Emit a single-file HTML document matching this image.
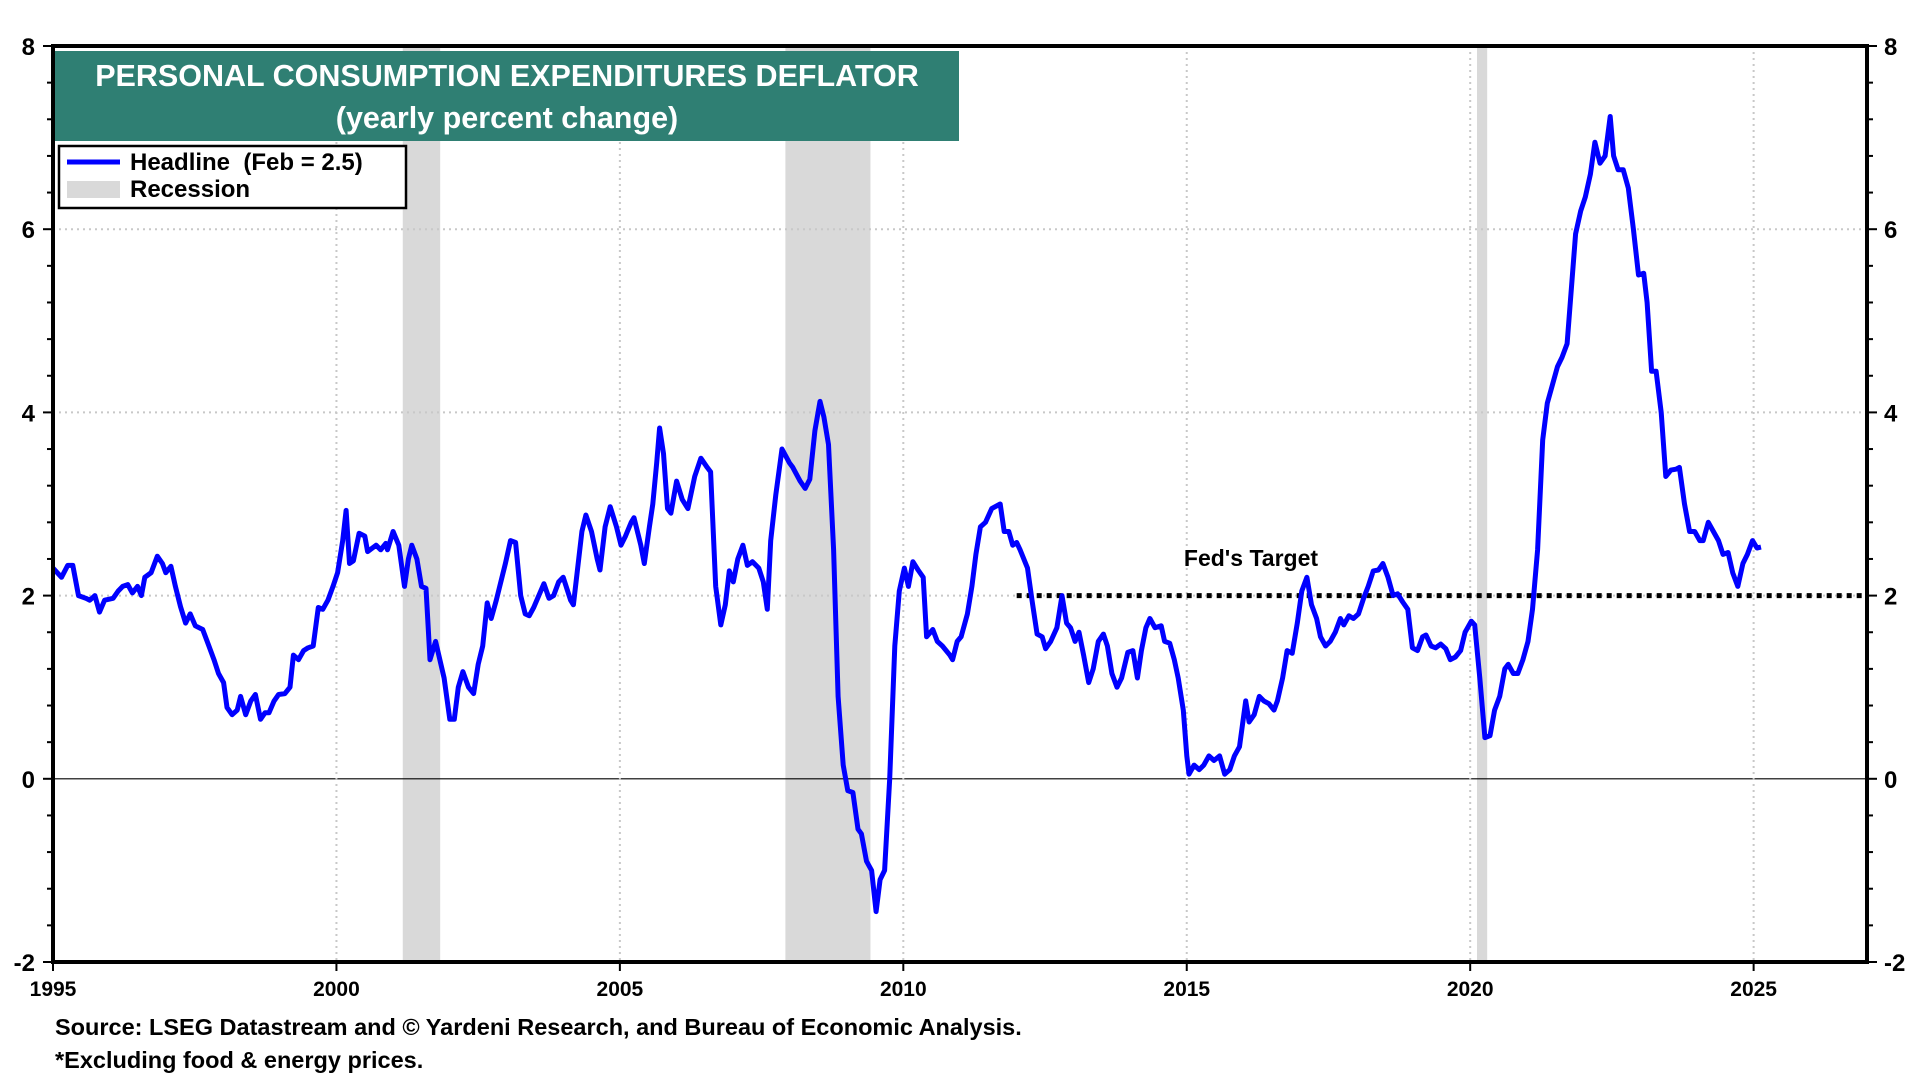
<!DOCTYPE html>
<html><head><meta charset="utf-8"><style>
body{margin:0;background:#fff;}
svg{display:block;font-family:"Liberation Sans",Arial,sans-serif;font-weight:bold;}
</style></head><body>
<svg id="chart" width="1920" height="1080" xmlns="http://www.w3.org/2000/svg">
<g id="bg"></g>
<g id="grid"></g>
<g id="series"></g>
<g id="axes"></g>
<rect x="55" y="51" width="904" height="90" fill="#2f7f73"/>
<text x="507" y="86" text-anchor="middle" font-size="30.5" fill="#fff">PERSONAL CONSUMPTION EXPENDITURES DEFLATOR</text>
<text x="507" y="128" text-anchor="middle" font-size="30.5" fill="#fff">(yearly percent change)</text>
<g>
<rect x="59" y="146" width="347" height="62" fill="#fff" stroke="#000" stroke-width="2.5"/>
<line x1="67" y1="162" x2="120" y2="162" stroke="#0000ff" stroke-width="5"/>
<text x="130" y="170" font-size="24" xml:space="preserve">Headline  (Feb = 2.5)</text>
<rect x="67" y="181" width="53" height="17" fill="#d9d9d9"/>
<text x="130" y="197" font-size="24">Recession</text>
</g>
<text x="1251" y="566" text-anchor="middle" font-size="23">Fed's Target</text>
<text x="55" y="1035" font-size="23.5">Source: LSEG Datastream and © Yardeni Research, and Bureau of Economic Analysis.</text>
<text x="55" y="1068" font-size="23.5">*Excluding food &amp; energy prices.</text>
</svg>
<script>
const dates=[1995.0,1995.15,1995.26,1995.35,1995.45,1995.58,1995.65,1995.74,1995.82,1995.91,1996.06,1996.15,1996.23,1996.32,1996.4,1996.49,1996.56,1996.62,1996.73,1996.84,1996.93,1996.99,1997.08,1997.16,1997.25,1997.34,1997.42,1997.51,1997.64,1997.75,1997.84,1997.92,1998.01,1998.07,1998.16,1998.25,1998.31,1998.4,1998.49,1998.57,1998.66,1998.74,1998.81,1998.9,1998.98,1999.09,1999.18,1999.24,1999.33,1999.42,1999.5,1999.59,1999.68,1999.76,1999.85,1999.94,2000.02,2000.11,2000.17,2000.23,2000.3,2000.4,2000.5,2000.55,2000.7,2000.78,2000.87,2000.9,2001,2001.1,2001.2,2001.27,2001.33,2001.42,2001.5,2001.58,2001.65,2001.75,2001.9,2002.0,2002.08,2002.15,2002.23,2002.33,2002.42,2002.5,2002.58,2002.66,2002.73,2002.82,2002.98,2003.07,2003.16,2003.25,2003.33,2003.4,2003.48,2003.66,2003.75,2003.83,2003.92,2004,2004.13,2004.18,2004.33,2004.4,2004.5,2004.6,2004.65,2004.74,2004.83,2004.94,2005.02,2005.1,2005.2,2005.25,2005.37,2005.43,2005.52,2005.58,2005.65,2005.7,2005.77,2005.84,2005.9,2006.0,2006.1,2006.2,2006.32,2006.43,2006.54,2006.6,2006.69,2006.78,2006.86,2006.93,2007.0,2007.08,2007.17,2007.25,2007.34,2007.45,2007.53,2007.6,2007.66,2007.75,2007.86,2007.99,2008.05,2008.18,2008.27,2008.35,2008.44,2008.53,2008.6,2008.68,2008.77,2008.85,2008.94,2009.02,2009.11,2009.2,2009.26,2009.35,2009.44,2009.52,2009.59,2009.67,2009.76,2009.85,2009.93,2010.02,2010.09,2010.17,2010.26,2010.35,2010.41,2010.52,2010.6,2010.69,2010.82,2010.87,2010.95,2011.02,2011.13,2011.21,2011.28,2011.36,2011.45,2011.56,2011.71,2011.78,2011.86,2011.93,2012.0,2012.06,2012.19,2012.27,2012.36,2012.45,2012.51,2012.6,2012.71,2012.8,2012.88,2012.95,2013.03,2013.1,2013.18,2013.27,2013.35,2013.44,2013.53,2013.6,2013.68,2013.77,2013.85,2013.96,2014.05,2014.13,2014.2,2014.28,2014.35,2014.44,2014.55,2014.61,2014.7,2014.78,2014.85,2014.94,2015.0,2015.04,2015.13,2015.22,2015.3,2015.39,2015.48,2015.58,2015.67,2015.76,2015.84,2015.93,2016.04,2016.1,2016.19,2016.28,2016.36,2016.45,2016.54,2016.6,2016.69,2016.77,2016.86,2016.95,2017.03,2017.12,2017.2,2017.29,2017.36,2017.45,2017.53,2017.62,2017.71,2017.77,2017.86,2017.94,2018.03,2018.12,2018.2,2018.29,2018.38,2018.46,2018.55,2018.64,2018.72,2018.81,2018.9,2018.98,2019.07,2019.16,2019.22,2019.31,2019.39,2019.48,2019.57,2019.65,2019.74,2019.83,2019.91,2020.02,2020.08,2020.17,2020.26,2020.35,2020.43,2020.52,2020.61,2020.67,2020.76,2020.84,2020.93,2021.02,2021.1,2021.19,2021.28,2021.36,2021.45,2021.54,2021.62,2021.71,2021.86,2021.95,2022.03,2022.12,2022.2,2022.29,2022.38,2022.47,2022.53,2022.61,2022.7,2022.79,2022.88,2022.97,2023.06,2023.12,2023.2,2023.28,2023.37,2023.45,2023.54,2023.63,2023.69,2023.78,2023.87,2023.96,2024.05,2024.11,2024.2,2024.29,2024.38,2024.46,2024.55,2024.63,2024.72,2024.81,2024.89,2024.98,2025.06,2025.13];
const values=[2.3,2.2,2.33,2.33,2.0,1.97,1.95,2.0,1.82,1.95,1.97,2.05,2.1,2.12,2.03,2.1,2.0,2.2,2.25,2.43,2.35,2.25,2.32,2.1,1.88,1.7,1.8,1.67,1.63,1.45,1.3,1.15,1.05,0.78,0.7,0.75,0.9,0.7,0.85,0.92,0.65,0.72,0.72,0.85,0.92,0.93,1.0,1.35,1.3,1.4,1.43,1.45,1.87,1.85,1.95,2.1,2.25,2.6,2.93,2.35,2.38,2.68,2.65,2.48,2.55,2.5,2.57,2.5,2.7,2.55,2.1,2.4,2.55,2.4,2.1,2.08,1.3,1.5,1.1,0.65,0.65,1.0,1.17,1.0,0.93,1.25,1.45,1.92,1.75,1.95,2.35,2.6,2.58,2.0,1.8,1.78,1.87,2.13,1.97,2.0,2.15,2.2,1.95,1.9,2.7,2.88,2.7,2.4,2.28,2.75,2.97,2.75,2.55,2.65,2.8,2.85,2.55,2.35,2.75,3.0,3.45,3.83,3.55,2.95,2.9,3.25,3.05,2.95,3.3,3.5,3.4,3.35,2.1,1.68,1.9,2.27,2.15,2.4,2.55,2.33,2.37,2.3,2.15,1.85,2.6,3.1,3.6,3.45,3.4,3.25,3.17,3.27,3.8,4.12,3.95,3.65,2.5,0.9,0.15,-0.13,-0.15,-0.55,-0.6,-0.9,-1.0,-1.45,-1.1,-1.0,0,1.45,2.05,2.3,2.1,2.37,2.28,2.2,1.55,1.63,1.5,1.45,1.35,1.3,1.5,1.55,1.8,2.1,2.45,2.75,2.8,2.95,3.0,2.7,2.7,2.55,2.58,2.5,2.3,1.95,1.58,1.55,1.42,1.5,1.65,2.0,1.7,1.65,1.5,1.6,1.35,1.05,1.2,1.5,1.58,1.45,1.15,1.0,1.1,1.38,1.4,1.1,1.4,1.65,1.75,1.65,1.67,1.5,1.48,1.3,1.1,0.75,0.25,0.05,0.15,0.1,0.15,0.25,0.2,0.25,0.05,0.1,0.25,0.35,0.85,0.62,0.7,0.9,0.85,0.82,0.75,0.85,1.1,1.4,1.37,1.7,2.05,2.2,1.9,1.75,1.55,1.45,1.5,1.6,1.75,1.68,1.78,1.75,1.8,1.97,2.1,2.27,2.28,2.35,2.2,2.0,2.02,1.93,1.85,1.43,1.4,1.55,1.57,1.45,1.43,1.47,1.42,1.3,1.33,1.4,1.6,1.72,1.68,1.1,0.45,0.47,0.75,0.9,1.2,1.25,1.15,1.15,1.3,1.5,1.85,2.5,3.7,4.1,4.3,4.5,4.6,4.75,5.95,6.2,6.35,6.6,6.95,6.72,6.8,7.23,6.8,6.65,6.65,6.45,6.0,5.5,5.52,5.2,4.45,4.45,4.0,3.3,3.37,3.38,3.4,3.0,2.7,2.7,2.6,2.6,2.8,2.7,2.6,2.45,2.47,2.25,2.1,2.35,2.45,2.6,2.52,2.53];
const recStart=[2001.17,2007.92,2020.12];
const recEnd=[2001.83,2009.42,2020.3];
const yTicks=[-2,0,2,4,6,8];
const xTicks=[1995,2000,2005,2010,2015,2020,2025];
const fedTarget=2, fedStart=2012;

const NS="http://www.w3.org/2000/svg";
const L=53,R=1867,T=46,B=962,X0=1995,X1=2027,Y0=-2,Y1=8;
function xs(t){return L+(t-X0)*(R-L)/(X1-X0);}
function ys(v){return B-(v-Y0)*(B-T)/(Y1-Y0);}
function mk(tag,attrs,parent){const e=document.createElementNS(NS,tag);for(const k in attrs)e.setAttribute(k,attrs[k]);parent.appendChild(e);return e;}
const bg=document.getElementById('bg'),grid=document.getElementById('grid'),ser=document.getElementById('series'),ax=document.getElementById('axes');
recStart.forEach((s,i)=>{
 const r=mk('rect',{x:xs(s),y:T,width:xs(recEnd[i])-xs(s),height:B-T,fill:'#d9d9d9'},bg);
 
 
});
yTicks.forEach(v=>{
 if(v===Y0||v===Y1)return;
 const g=mk('line',{x1:L,x2:R,y1:ys(v),y2:ys(v),stroke:v===0?'#000':'#c8c8c8','stroke-width':v===0?1.2:2,'stroke-dasharray':v===0?'':'2 4'},grid);
 
 
});
xTicks.forEach(t=>{
 if(t===X0)return;
 const g=mk('line',{x1:xs(t),x2:xs(t),y1:T,y2:B,stroke:'#c8c8c8','stroke-width':2,'stroke-dasharray':'2 4'},grid);
 
 
});
const fed=mk('line',{x1:xs(fedStart),x2:R,y1:ys(fedTarget),y2:ys(fedTarget),stroke:'#000','stroke-width':5,'stroke-dasharray':'5 5'},grid);


const d=dates.map((t,i)=>(i?'L':'M')+xs(t).toFixed(1)+','+ys(values[i]).toFixed(1)).join('');
const p=mk('path',{d:d,fill:'none',stroke:'#0000ff','stroke-width':5,'stroke-linejoin':'round'},ser);


const fr=mk('rect',{x:L,y:T,width:R-L,height:B-T,fill:'none',stroke:'#000','stroke-width':4},ax);


for(let v=Y0;v<=Y1+0.001;v+=0.4){
 const major=Math.abs(v-Math.round(v/2)*2)<0.01;
 const len=major?10:6;
 const a=mk('line',{x1:L-len,x2:L,y1:ys(v),y2:ys(v),stroke:'#000','stroke-width':2},ax);
 
 
 const b=mk('line',{x1:R,x2:R+len,y1:ys(v),y2:ys(v),stroke:'#000','stroke-width':2},ax);
 
 
}
yTicks.forEach(v=>{
 const a=mk('text',{x:35,y:ys(v)+9,'text-anchor':'end','font-size':24},ax);a.textContent=v;
 
 
 const b=mk('text',{x:1884,y:ys(v)+9,'font-size':24},ax);b.textContent=v;
 
 
});
xTicks.forEach(t=>{
 const k=mk('line',{x1:xs(t),x2:xs(t),y1:B,y2:B+9,stroke:'#000','stroke-width':2},ax);
 
 
 const l=mk('text',{x:xs(t),y:996,'text-anchor':'middle','font-size':21},ax);l.textContent=t;
 
 
});
</script>
</body></html>
